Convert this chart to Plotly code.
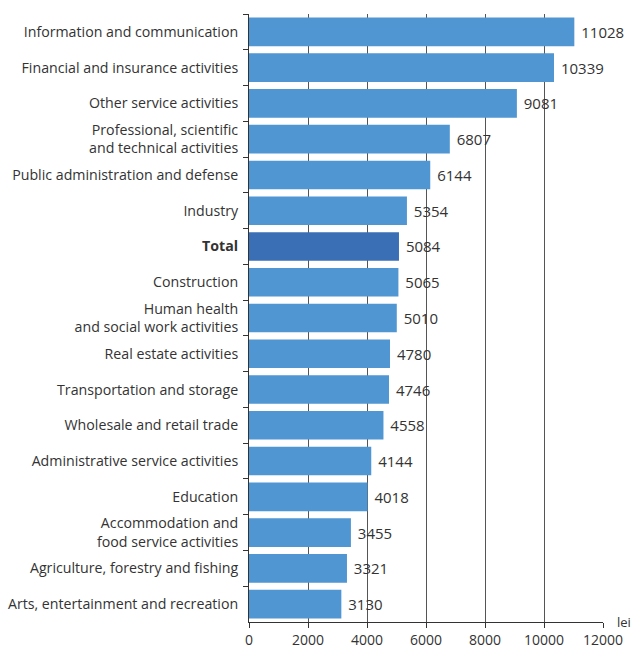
import plotly.graph_objects as go

categories = [
    "Information and communication",
    "Financial and insurance activities",
    "Other service activities",
    "Professional, scientific<br>and technical activities",
    "Public administration and defense",
    "Industry",
    "<b>Total</b>",
    "Construction",
    "Human health<br>and social work activities",
    "Real estate activities",
    "Transportation and storage",
    "Wholesale and retail trade",
    "Administrative service activities",
    "Education",
    "Accommodation and<br>food service activities",
    "Agriculture, forestry and fishing",
    "Arts, entertainment and recreation",
]
values = [11028, 10339, 9081, 6807, 6144, 5354, 5084, 5065, 5010, 4780, 4746, 4558, 4144, 4018, 3455, 3321, 3130]
x_ticks = [0, 2000, 4000, 6000, 8000, 10000, 12000]

BLUE = "#4F96D2"
DARK = "#3A6FB6"
colors = [DARK if "Total" in c else BLUE for c in categories]

fig = go.Figure(go.Bar(
    x=values, y=categories, orientation="h",
    marker=dict(color=colors, line=dict(width=0)),
    width=0.8,
    text=[" " + str(v) for v in values], textposition="outside",
    textfont=dict(family="Open Sans", size=15, color="#333333"),
    cliponaxis=False,
))

fig.update_layout(
    width=632, height=648,
    margin=dict(l=249, r=29, t=14, b=26, autoexpand=False),
    paper_bgcolor="white", plot_bgcolor="white",
    font=dict(family="Open Sans", size=14, color="#333333"),
    showlegend=False,
    bargap=0.2,
    xaxis=dict(
        range=[0, 12000], tickvals=x_ticks, ticktext=[str(t) for t in x_ticks],
        showgrid=True, gridcolor="#555555", gridwidth=1,
        showline=True, linecolor="#333333", linewidth=1,
        ticks="outside", ticklen=5, tickcolor="#333333",
        tickfont=dict(size=14, color="#333333"), zeroline=False,
    ),
    yaxis=dict(
        autorange="reversed",
        showline=True, linecolor="#333333", linewidth=1,
        ticks="outside", ticklen=5, tickcolor="#333333", tickson="boundaries",
        ticklabelstandoff=7,
        showgrid=False, tickfont=dict(size=14.2, color="#333333"),
    ),
    annotations=[dict(
        text="lei", xref="paper", yref="paper", x=1.034, y=0, xanchor="left", yanchor="middle",
        showarrow=False, font=dict(size=13, color="#333333"),
    )],
)

fig.write_html(
    "out.html",
    config={"displayModeBar": False},
    post_script="document.body.style.margin='0';document.body.style.overflow='hidden';",
)
